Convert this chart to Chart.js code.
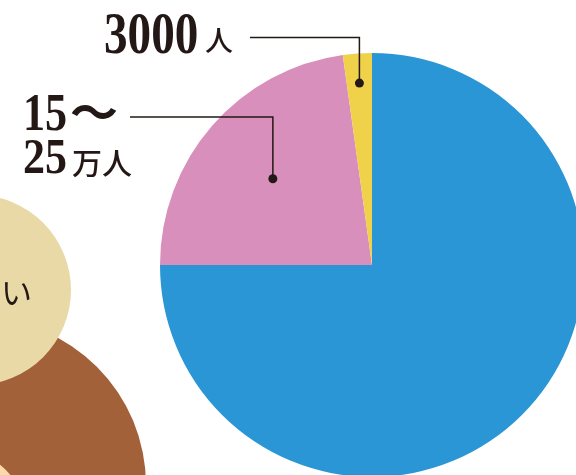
<!DOCTYPE html>
<html>
<head>
<meta charset="utf-8">
<script src="https://cdn.jsdelivr.net/npm/chart.js@4.4.1/dist/chart.umd.min.js"></script>
<style>
  html, body { margin: 0; padding: 0; background: #ffffff; overflow: hidden; width: 576px; height: 475px; }
  #wrap { position: absolute; left: 0; top: 0; width: 744px; height: 530px; }
</style>
</head>
<body>
<div id="wrap"><canvas id="pieChart"></canvas></div>
<script>
// clockwise from 12 o'clock
const categories = ["その他", "15〜25万人", "3000人"];
const shares = [75, 22.8, 2.2];
const sliceColors = ["#2b96d6", "#d98fbb", "#f0d24a"];

const ink = "#231815";

// background circles of the neighbouring figure
const decoPlugin = {
  id: "deco",
  beforeDraw(chart) {
    const ctx = chart.ctx;
    ctx.save();
    ctx.fillStyle = "#a3613a";
    ctx.beginPath(); ctx.arc(-21, 485, 167, 0, Math.PI * 2); ctx.fill();
    ctx.fillStyle = "#fcd9a6";
    ctx.beginPath(); ctx.arc(-37, 512, 60, 0, Math.PI * 2); ctx.fill();
    ctx.fillStyle = "#e8d9a6";
    ctx.beginPath(); ctx.arc(-24, 290, 95, 0, Math.PI * 2); ctx.fill();
    ctx.fillStyle = ink;
    ctx.font = '400 31px "Noto Sans CJK JP"';
    ctx.fillText("い", 1, 304);
    ctx.restore();
  }
};

function drawScaled(ctx, text, x, y, font, sx) {
  ctx.save();
  ctx.translate(x, y);
  ctx.scale(sx, 1);
  ctx.font = font;
  ctx.fillText(text, 0, 0);
  ctx.restore();
}

const calloutPlugin = {
  id: "callouts",
  afterDraw(chart) {
    const ctx = chart.ctx;
    const arcs = chart.getDatasetMeta(0).data;
    const callouts = [
      { index: 2, depth: 0.86, lineY: 37.5, lineX: 250 },
      { index: 1, depth: 0.62, lineY: 117, lineX: 130 }
    ];
    ctx.save();
    ctx.strokeStyle = ink;
    ctx.fillStyle = ink;
    ctx.lineWidth = 1.5;
    callouts.forEach((c) => {
      const a = arcs[c.index];
      const mid = (a.startAngle + a.endAngle) / 2;
      const px = a.x + Math.cos(mid) * a.outerRadius * c.depth;
      const py = a.y + Math.sin(mid) * a.outerRadius * c.depth;
      ctx.beginPath();
      ctx.moveTo(c.lineX, c.lineY);
      ctx.lineTo(px, c.lineY);
      ctx.lineTo(px, py);
      ctx.stroke();
      ctx.beginPath();
      ctx.arc(px, py, 4.5, 0, Math.PI * 2);
      ctx.fill();
    });

    const serif = '"Liberation Serif", "DejaVu Serif", serif';
    const cjk = '"Noto Sans CJK JP", sans-serif';
    drawScaled(ctx, "3000", 104, 53, "bold 59px " + serif, 0.8);
    drawScaled(ctx, "人", 205, 51, "500 28px " + cjk, 1);
    drawScaled(ctx, "15", 23, 130, "bold 52px " + serif, 0.85);
    drawScaled(ctx, "〜", 70, 130, "bold 48px " + cjk, 1);
    drawScaled(ctx, "25", 23, 173, "bold 50px " + serif, 0.88);
    drawScaled(ctx, "万人", 72, 174, "500 30px " + cjk, 1);
    ctx.restore();
  }
};

new Chart(document.getElementById("pieChart"), {
  type: "pie",
  data: {
    labels: categories,
    datasets: [{
      data: shares,
      backgroundColor: sliceColors,
      borderWidth: 0
    }]
  },
  options: {
    responsive: true,
    maintainAspectRatio: false,
    animation: false,
    layout: { padding: { left: 160, right: 160, top: 53, bottom: 53 } },
    plugins: {
      legend: { display: false },
      tooltip: { enabled: false }
    }
  },
  plugins: [decoPlugin, calloutPlugin]
});
</script>
</body>
</html>
